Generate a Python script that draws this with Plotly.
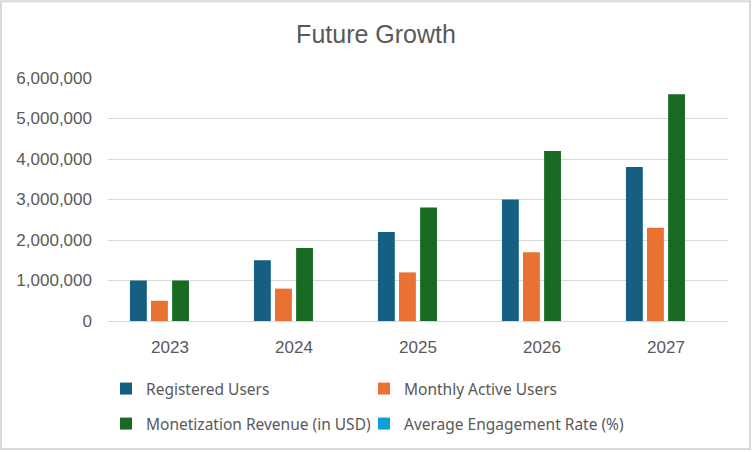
import plotly.graph_objects as go

years = ["2023", "2024", "2025", "2026", "2027"]
registered_users = [1000000, 1500000, 2200000, 3000000, 3800000]
monthly_active_users = [500000, 800000, 1200000, 1700000, 2300000]
monetization_revenue = [1000000, 1800000, 2800000, 4200000, 5600000]
engagement_rate = [25, 30, 35, 40, 45]

series_names = ["Registered Users", "Monthly Active Users",
                "Monetization Revenue (in USD)", "Average Engagement Rate (%)"]
colors = ["#156082", "#E97132", "#196B24", "#0F9ED5"]
legends = ["legend", "legend2", "legend3", "legend4"]

W, H = 752, 452
L, R, T, B = 108, 24, 78, 130
pw, ph = W - L - R, H - T - B

fig = go.Figure()
for name, vals, col, lg in zip(series_names,
                               [registered_users, monthly_active_users, monetization_revenue, engagement_rate],
                               colors, legends):
    fig.add_trace(go.Bar(x=years, y=vals, name=name, marker_color=col,
                         marker_line_width=0, legend=lg, showlegend=True))

def px_x(p):
    return (p - L) / pw

def px_y(p):
    return (H - B - p) / ph

fig.add_shape(type="rect", xref="paper", yref="paper",
              x0=px_x(1), x1=px_x(750), y0=px_y(450.5), y1=px_y(1),
              line=dict(color="#D9D9D9", width=2), layer="below")

legend_font = dict(family="Noto Sans, Lato, sans-serif", size=15.5, color="#595959")
tick_font = dict(family="Liberation Sans, Arial, sans-serif", size=17, color="#595959")

def leg(xp, yp):
    return dict(orientation="h", x=px_x(xp), y=px_y(yp), xanchor="left", yanchor="middle",
                font=legend_font, itemwidth=30, bgcolor="rgba(0,0,0,0)", visible=True)

fig.update_layout(
    width=W, height=H,
    showlegend=True,
    margin=dict(l=L, r=R, t=T, b=B),
    paper_bgcolor="white", plot_bgcolor="white",
    title=dict(text="Future Growth", x=0.5, xanchor="center",
               y=1 - 34 / H, yanchor="middle",
               font=dict(family="Liberation Sans, Arial, sans-serif",
                         size=25, color="#595959")),
    barmode="group", bargap=0.32, bargroupgap=0.2,
    xaxis=dict(showgrid=False, showline=False, ticks="", ticklabelstandoff=14,
               tickfont=tick_font),
    yaxis=dict(range=[0, 6000000], dtick=1000000, tickformat=",d",
               gridcolor="#D9D9D9", gridwidth=1.3, zeroline=True, zerolinecolor="#D9D9D9",
               zerolinewidth=1.3, showline=False, ticks="", ticklabelstandoff=15,
               tickfont=tick_font),
    legend=leg(106, 389),
    legend2=leg(364, 389),
    legend3=leg(106, 424),
    legend4=leg(364, 424),
)

fig.write_html("out.html", post_script="document.body.style.margin='0';",
               config={"displayModeBar": False})
